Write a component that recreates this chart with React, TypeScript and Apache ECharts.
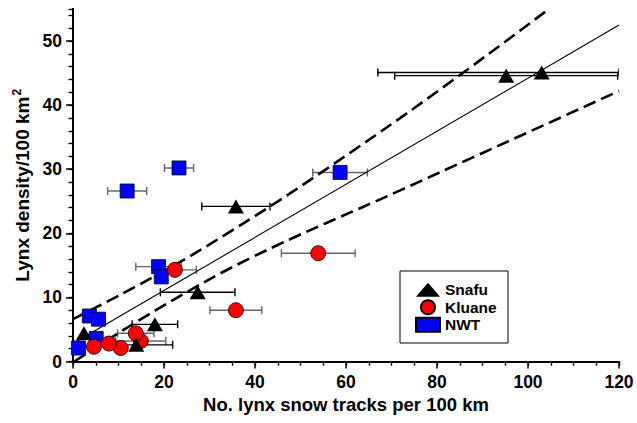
import React, { useEffect, useRef } from 'react';
import * as echarts from 'echarts';

const FONT = '"Liberation Sans", Arial, Helvetica, sans-serif';

// Snafu (triangles)
const snafuX = [103.0, 95.2, 35.8, 27.4, 18.0, 13.9, 2.4];
const snafuY = [45.1, 44.6, 24.2, 10.8, 5.8, 2.6, 4.4];
const snafuErr = [36, 24.5, 7.5, 8.2, 5.0, 8.0, 0];

// Kluane (circles)
const kluaneX = [53.9, 35.8, 22.4, 14.9, 13.8, 10.5, 7.9, 4.6];
const kluaneY = [16.9, 8.0, 14.3, 3.2, 4.4, 2.1, 2.8, 2.3];
const kluaneErr = [8.1, 5.7, 4.7, 5.5, 4.0, 0, 0, 0];

// NWT (squares)
const nwtX = [23.3, 11.9, 58.7, 18.8, 19.4, 3.6, 5.6, 5.1, 1.2];
const nwtY = [30.2, 26.6, 29.5, 14.8, 13.2, 7.1, 6.6, 3.6, 2.1];
const nwtErr = [3.2, 4.3, 6.0, 5.0, 0, 0, 0, 0, 0];

// regression line and confidence limits
const fitX = [0, 120];
const fitY = [2.8, 52.5];
const upperX = [0, 28, 67.5, 104.6];
const upperY = [6.6, 17.4, 35.8, 55];
const lowerX = [0.3, 18.2, 38.9, 71.9, 120];
const lowerY = [0, 8.0, 16.1, 26.7, 42.2];

const xTicks = [0, 20, 40, 60, 80, 100, 120];
const yTicks = [0, 10, 20, 30, 40, 50];

const X_MAX = 120;
const Y_MAX = 55;

const pairs = (xs: number[], ys: number[]) => xs.map((x, i) => [x, ys[i]]);
const errData = (xs: number[], ys: number[], es: number[]) =>
  xs.map((x, i) => [x, ys[i], es[i]]).filter((d) => d[2] > 0);

const errSeries = (name: string, data: number[][], color: string) => ({
  type: 'custom',
  name,
  z: 1,
  clip: true,
  data,
  encode: { x: 0, y: 1 },
  renderItem: (params: any, api: any) => {
    const x = api.value(0);
    const y = api.value(1);
    const e = api.value(2);
    const lo = api.coord([Math.max(x - e, 0), y]);
    const hi = api.coord([Math.min(x + e, X_MAX), y]);
    const c = 4;
    const style = { stroke: color, lineWidth: 1.4 };
    return {
      type: 'group',
      children: [
        { type: 'line', shape: { x1: lo[0], y1: lo[1], x2: hi[0], y2: hi[1] }, style },
        { type: 'line', shape: { x1: lo[0], y1: lo[1] - c, x2: lo[0], y2: lo[1] + c }, style },
        { type: 'line', shape: { x1: hi[0], y1: hi[1] - c, x2: hi[0], y2: hi[1] + c }, style },
      ],
    };
  },
});

export default function App() {
  const ref = useRef<HTMLDivElement>(null);
  useEffect(() => {
    if (!ref.current) return;
    const chart = echarts.init(ref.current, undefined, { renderer: 'svg' });
    const axisLineStyle = { color: '#000', width: 2 };
    const tickLabel = { fontFamily: FONT, fontWeight: 'bold', fontSize: 17.5, color: '#000' };
    chart.setOption({
      animation: false,
      backgroundColor: '#fff',
      grid: { left: 73, top: 9, right: 18, bottom: 61.5, containLabel: false },
      xAxis: [
        {
          type: 'value', min: 0, max: X_MAX, interval: 20, position: 'bottom',
          axisLine: { show: true, lineStyle: axisLineStyle },
          axisTick: { show: true, length: 7, inside: false, lineStyle: { color: '#000', width: 1.5 }, customValues: xTicks },
          axisLabel: { ...tickLabel, margin: 11, customValues: xTicks },
          splitLine: { show: false },
          name: 'No. lynx snow tracks per 100 km',
          nameLocation: 'middle', nameGap: 32,
          nameTextStyle: { fontFamily: FONT, fontWeight: 'bold', fontSize: 18.5, color: '#000' },
        },
        {
          type: 'value', min: 0, max: X_MAX, interval: 5, position: 'bottom',
          axisLine: { show: false },
          axisTick: { show: true, length: 4, inside: false, lineStyle: { color: '#000', width: 1.2 } },
          axisLabel: { show: false }, splitLine: { show: false },
        },
        {
          type: 'value', min: 0, max: X_MAX, interval: 5, position: 'top',
          axisLine: { show: true, lineStyle: axisLineStyle },
          axisTick: { show: true, length: 4, inside: true, lineStyle: { color: '#000', width: 1.2 } },
          axisLabel: { show: false }, splitLine: { show: false },
        },
      ],
      yAxis: [
        {
          type: 'value', min: 0, max: Y_MAX, interval: 10, position: 'left',
          axisLine: { show: true, lineStyle: axisLineStyle },
          axisTick: { show: true, length: 7, inside: false, lineStyle: { color: '#000', width: 1.5 }, customValues: yTicks },
          axisLabel: { ...tickLabel, margin: 11, customValues: yTicks },
          splitLine: { show: false },
          name: '{a|Lynx density/100 km}{b|2}',
          nameLocation: 'middle', nameGap: 39, nameRotate: 90,
          nameTextStyle: {
            rich: {
              a: { fontFamily: FONT, fontWeight: 'bold', fontSize: 19, color: '#000', lineHeight: 22 },
              b: { fontFamily: FONT, fontWeight: 'bold', fontSize: 12, color: '#000', verticalAlign: 'top', lineHeight: 22, padding: [0, 0, 8, 1] },
            },
          },
        },
        {
          type: 'value', min: 0, max: Y_MAX, interval: 2, position: 'left',
          axisLine: { show: false },
          axisTick: { show: true, length: 4.5, inside: false, lineStyle: { color: '#000', width: 1.2 } },
          axisLabel: { show: false }, splitLine: { show: false },
        },
        {
          type: 'value', min: 0, max: Y_MAX, interval: 2, position: 'right',
          axisLine: { show: true, lineStyle: axisLineStyle },
          axisTick: { show: true, length: 4, inside: true, lineStyle: { color: '#000', width: 1.2 } },
          axisLabel: { show: false }, splitLine: { show: false },
        },
      ],
      legend: {
        data: ['Snafu', 'Kluane', 'NWT'],
        orient: 'vertical',
        left: 415,
        top: 281,
        padding: 0,
        itemGap: 0,
        itemWidth: 24,
        itemHeight: 14,
        textStyle: { fontFamily: FONT, fontWeight: 'bold', fontSize: 15.5, color: '#000', lineHeight: 17.5 },
      },
      graphic: [
        {
          type: 'rect', z: 1,
          shape: { x: 400, y: 271, width: 108, height: 72 },
          style: { fill: '#fff', stroke: '#000', lineWidth: 1 },
        },
      ],
      series: [
        {
          type: 'line', name: 'fit', data: pairs(fitX, fitY), showSymbol: false, symbol: 'none',
          lineStyle: { color: '#000', width: 1.1 }, z: 1, clip: true,
        },
        {
          type: 'line', name: 'upper', data: pairs(upperX, upperY), showSymbol: false, symbol: 'none', smooth: 0.4,
          lineStyle: { color: '#000', width: 2.6, type: [13, 6] }, z: 1, clip: true,
        },
        {
          type: 'line', name: 'lower', data: pairs(lowerX, lowerY), showSymbol: false, symbol: 'none', smooth: 0.4,
          lineStyle: { color: '#000', width: 2.6, type: [13, 6] }, z: 1, clip: true,
        },
        errSeries('nwtErr', errData(nwtX, nwtY, nwtErr), '#666'),
        errSeries('kluaneErr', errData(kluaneX, kluaneY, kluaneErr), '#666'),
        errSeries('snafuErr', errData(snafuX, snafuY, snafuErr), '#000'),
        {
          type: 'scatter', name: 'NWT', data: pairs(nwtX, nwtY), symbol: 'rect', symbolSize: 14, z: 3,
          itemStyle: { color: '#0000ff', borderColor: '#000', borderWidth: 0.8, opacity: 1 },
        },
        {
          type: 'scatter', name: 'Kluane', data: pairs(kluaneX, kluaneY), symbol: 'circle', symbolSize: 15, z: 4,
          itemStyle: { color: '#ff0000', borderColor: '#000', borderWidth: 0.8, opacity: 1 },
        },
        {
          type: 'scatter', name: 'Snafu', data: pairs(snafuX, snafuY), symbol: 'triangle', symbolSize: [16, 14], z: 5,
          itemStyle: { color: '#000', opacity: 1 },
        },
      ],
    });
    return () => chart.dispose();
  }, []);
  return <div ref={ref} style={{ width: 637, height: 423, position: 'absolute', left: 0, top: 0 }} />;
}
